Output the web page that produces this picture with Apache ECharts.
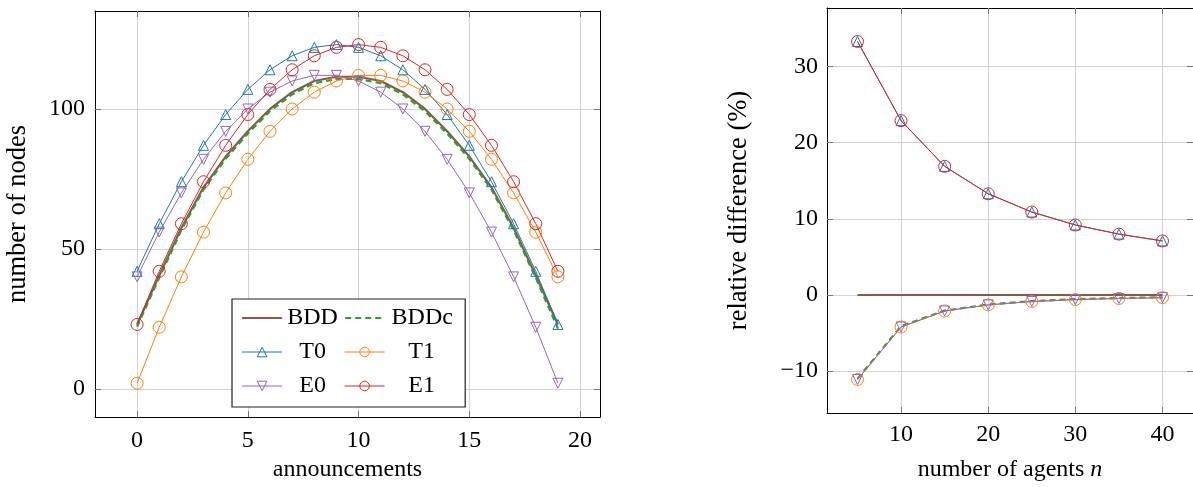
<!DOCTYPE html>
<html>
<head>
<meta charset="utf-8">
<script src="https://cdn.jsdelivr.net/npm/echarts@6/dist/echarts.min.js"></script>
<style>
  html, body { margin: 0; padding: 0; background: #fff; }
  #chart { width: 1193px; height: 487px; }
</style>
</head>
<body>
<div id="chart"></div>
<script>
// ---- left panel: nodes per announcement step ----
const announcements = [0, 1, 2, 3, 4, 5, 6, 7, 8, 9, 10, 11, 12, 13, 14, 15, 16, 17, 18, 19];
const bddNodes  = [23, 40.5, 57.5, 72, 83, 92, 100, 106, 110, 111.5, 111.5, 110, 106, 100, 92, 83, 72, 57.5, 40.5, 23];
const bddcNodes = [22.2, 39.7, 56.7, 71.2, 82.2, 91.2, 99.2, 105.2, 109.2, 110.7, 110.7, 109.2, 105.2, 99.2, 91.2, 82.2, 71.2, 56.7, 39.7, 21.5];
const t0Nodes   = [42, 59, 74, 87, 98, 107, 114, 119, 122, 123, 122, 119, 114, 107, 98, 87, 74, 59, 42, 23];
const t1Nodes   = [2, 22, 40, 56, 70, 82, 92, 100, 106, 110, 112, 112, 110, 106, 100, 92, 82, 70, 56, 40];
const e0Nodes   = [40, 56, 70, 82, 92, 100, 106, 110, 112, 112, 110, 106, 100, 92, 82, 70, 56, 40, 22, 2];
const e1Nodes   = [23, 42, 59, 74, 87, 98, 107, 114, 119, 122, 123, 122, 119, 114, 107, 98, 87, 74, 59, 42];

// ---- right panel: relative difference against BDD ----
const agents    = [5, 10, 15, 20, 25, 30, 35, 40];
const bddDiff   = [0, 0, 0, 0, 0, 0, 0, 0];
const bddcDiff  = [-11.0, -4.1, -2.05, -1.25, -0.8, -0.55, -0.4, -0.3];
const t0Diff    = [33.3, 22.9, 16.9, 13.3, 10.9, 9.2, 8.0, 7.1];
const t1Diff    = [-11.1, -4.2, -2.1, -1.3, -0.85, -0.6, -0.45, -0.35];
const e0Diff    = [-11.1, -4.2, -2.1, -1.3, -0.85, -0.6, -0.45, -0.35];
const e1Diff    = [33.3, 22.9, 16.9, 13.3, 10.9, 9.2, 8.0, 7.1];

// tick labels
const leftXTicks  = [0, 5, 10, 15, 20];
const leftYTicks  = [0, 50, 100];
const rightXTicks = [10, 20, 30, 40];
const rightYTicks = [-10, 0, 10, 20, 30];

const FONT = '"Liberation Serif", "DejaVu Serif", serif';
const COLORS = {
  BDD: '#8c564b', BDDc: '#2ca02c', T0: '#1f77b4', T1: '#ff7f0e', E0: '#9467bd', E1: '#d62728'
};
const STYLES = {
  BDD:  { symbol: 'circle', size: 0, width: 2.2, dash: 'solid' },
  BDDc: { symbol: 'circle', size: 0, width: 2.2, dash: [6, 4] },
  T0:   { symbol: 'triangle', size: 10, width: 1, dash: 'solid' },
  T1:   { symbol: 'circle', size: 12, width: 1, dash: 'solid' },
  E0:   { symbol: 'triangle', size: 10, width: 1, dash: 'solid', rotate: 180 },
  E1:   { symbol: 'circle', size: 12, width: 1, dash: 'solid' }
};

function pairs(xs, ys) { return xs.map((x, i) => [x, ys[i]]); }
function minusFmt(v) { return v < 0 ? '\u2212' + (-v) : String(v); }

function makeSeries(name, xs, ys, axisIdx) {
  const s = STYLES[name];
  const c = COLORS[name];
  const hidden = s.size === 0;
  return {
    name: name,
    type: 'line',
    xAxisIndex: axisIdx,
    yAxisIndex: axisIdx,
    data: pairs(xs, ys),
    symbol: s.symbol,
    symbolSize: s.size,
    symbolRotate: s.rotate || 0,
    showSymbol: !hidden,
    smooth: false,
    lineStyle: { color: c, width: s.width, type: s.dash },
    itemStyle: {
      color: 'rgba(255,255,255,0)',
      borderColor: hidden ? 'rgba(0,0,0,0)' : c,
      borderWidth: hidden ? 0 : 1
    },
    emphasis: { disabled: true },
    z: 3
  };
}

const axisLineStyle = { show: true, onZero: false, lineStyle: { color: '#000', width: 1 } };
const labelStyle = { fontFamily: FONT, fontSize: 24, color: '#000' };
const titleStyle = { fontFamily: FONT, fontSize: 24, color: '#000' };
const yTitleStyle = { fontFamily: FONT, fontSize: 26.5, color: '#000' };

function bottomAxis(gridIndex, min, max, ticks, name, margin, nameGap) {
  return {
    type: 'value', gridIndex, position: 'bottom', min, max,
    axisLine: axisLineStyle,
    axisTick: { show: true, inside: true, length: 6, customValues: ticks, lineStyle: { color: '#777' } },
    axisLabel: Object.assign({ customValues: ticks, margin, formatter: minusFmt }, labelStyle),
    splitLine: { show: true, lineStyle: { color: '#d3d3d3', width: 1 } },
    name, nameLocation: 'middle', nameGap,
    nameTextStyle: Object.assign({ rich: { i: { fontFamily: FONT, fontSize: 24, fontStyle: 'italic', color: '#000' } } }, titleStyle)
  };
}
function topAxis(gridIndex, min, max, ticks) {
  return {
    type: 'value', gridIndex, position: 'top', min, max,
    axisLine: axisLineStyle,
    axisTick: { show: true, inside: true, length: 6, customValues: ticks, lineStyle: { color: '#777' } },
    axisLabel: { show: false, customValues: ticks },
    splitLine: { show: false }
  };
}
function leftAxis(gridIndex, min, max, ticks, name, margin, nameGap) {
  return {
    type: 'value', gridIndex, position: 'left', min, max,
    axisLine: axisLineStyle,
    axisTick: { show: true, inside: true, length: 6, customValues: ticks, lineStyle: { color: '#777' } },
    axisLabel: Object.assign({ customValues: ticks, margin, formatter: minusFmt }, labelStyle),
    splitLine: { show: true, lineStyle: { color: '#d3d3d3', width: 1 } },
    name, nameLocation: 'middle', nameGap, nameRotate: 90,
    nameTextStyle: yTitleStyle
  };
}
function rightAxis(gridIndex, min, max, ticks) {
  return {
    type: 'value', gridIndex, position: 'right', min, max,
    axisLine: axisLineStyle,
    axisTick: { show: true, inside: true, length: 6, customValues: ticks, lineStyle: { color: '#777' } },
    axisLabel: { show: false, customValues: ticks },
    splitLine: { show: false }
  };
}

const names = ['BDD', 'BDDc', 'T0', 'T1', 'E0', 'E1'];
const leftData  = [bddNodes, bddcNodes, t0Nodes, t1Nodes, e0Nodes, e1Nodes];
const rightData = [bddDiff, bddcDiff, t0Diff, t1Diff, e0Diff, e1Diff];

const series = [];
names.forEach((n, i) => series.push(makeSeries(n, announcements, leftData[i], 0)));
names.forEach((n, i) => series.push(makeSeries(n, agents, rightData[i], 2)));

// legend entries keep the thin strokes of the plotted lines and markers
const legendItems = names.map(n => {
  const s = STYLES[n];
  return {
    name: n,
    lineStyle: { width: s.width },
    itemStyle: { borderWidth: s.size === 0 ? 0 : 1 }
  };
});

const option = {
  animation: false,
  backgroundColor: '#fff',
  grid: [
    { left: 95, top: 11, width: 505, height: 410, containLabel: false },
    { left: 827, top: 8, width: 372, height: 410, containLabel: false }
  ],
  xAxis: [
    bottomAxis(0, -1.9, 20.9, leftXTicks, 'announcements', 12, 40),
    topAxis(0, -1.9, 20.9, leftXTicks),
    bottomAxis(1, 1.5, 43.5, rightXTicks, 'number of agents {i|n}', 10, 45),
    topAxis(1, 1.5, 43.5, rightXTicks)
  ],
  yAxis: [
    leftAxis(0, -10.1, 135, leftYTicks, 'number of nodes', 10, 63),
    rightAxis(0, -10.1, 135, leftYTicks),
    leftAxis(1, -15.5, 37.7, rightYTicks, 'relative difference (%)', 9, 74),
    rightAxis(1, -15.5, 37.7, rightYTicks)
  ],
  legend: {
    left: 232, top: 299, width: 215,
    orient: 'horizontal',
    padding: [5, 11, 7, 9],
    itemGap: 6,
    itemWidth: 40,
    itemHeight: 12,
    backgroundColor: '#fff',
    borderColor: '#222',
    borderWidth: 1.2,
    borderRadius: 0,
    data: legendItems,
    formatter: function (n) { return (n === 'BDDc' || n === 'T1' || n === 'E1') ? '{b|' + n + '}' : '{a|' + n + '}'; },
    textStyle: {
      fontFamily: FONT, fontSize: 24, color: '#000',
      rich: {
        a: { fontFamily: FONT, fontSize: 24, color: '#000', width: 51, align: 'center', height: 28, lineHeight: 28, padding: [0, 0, 0, 0] },
        b: { fontFamily: FONT, fontSize: 24, color: '#000', width: 64, align: 'center', height: 28, lineHeight: 28, padding: [0, 0, 0, 0] }
      }
    },
    selectedMode: false,
    z: 10
  },
  series: series
};

const chart = echarts.init(document.getElementById('chart'), null, { renderer: 'canvas' });
chart.setOption(option);
</script>
</body>
</html>
